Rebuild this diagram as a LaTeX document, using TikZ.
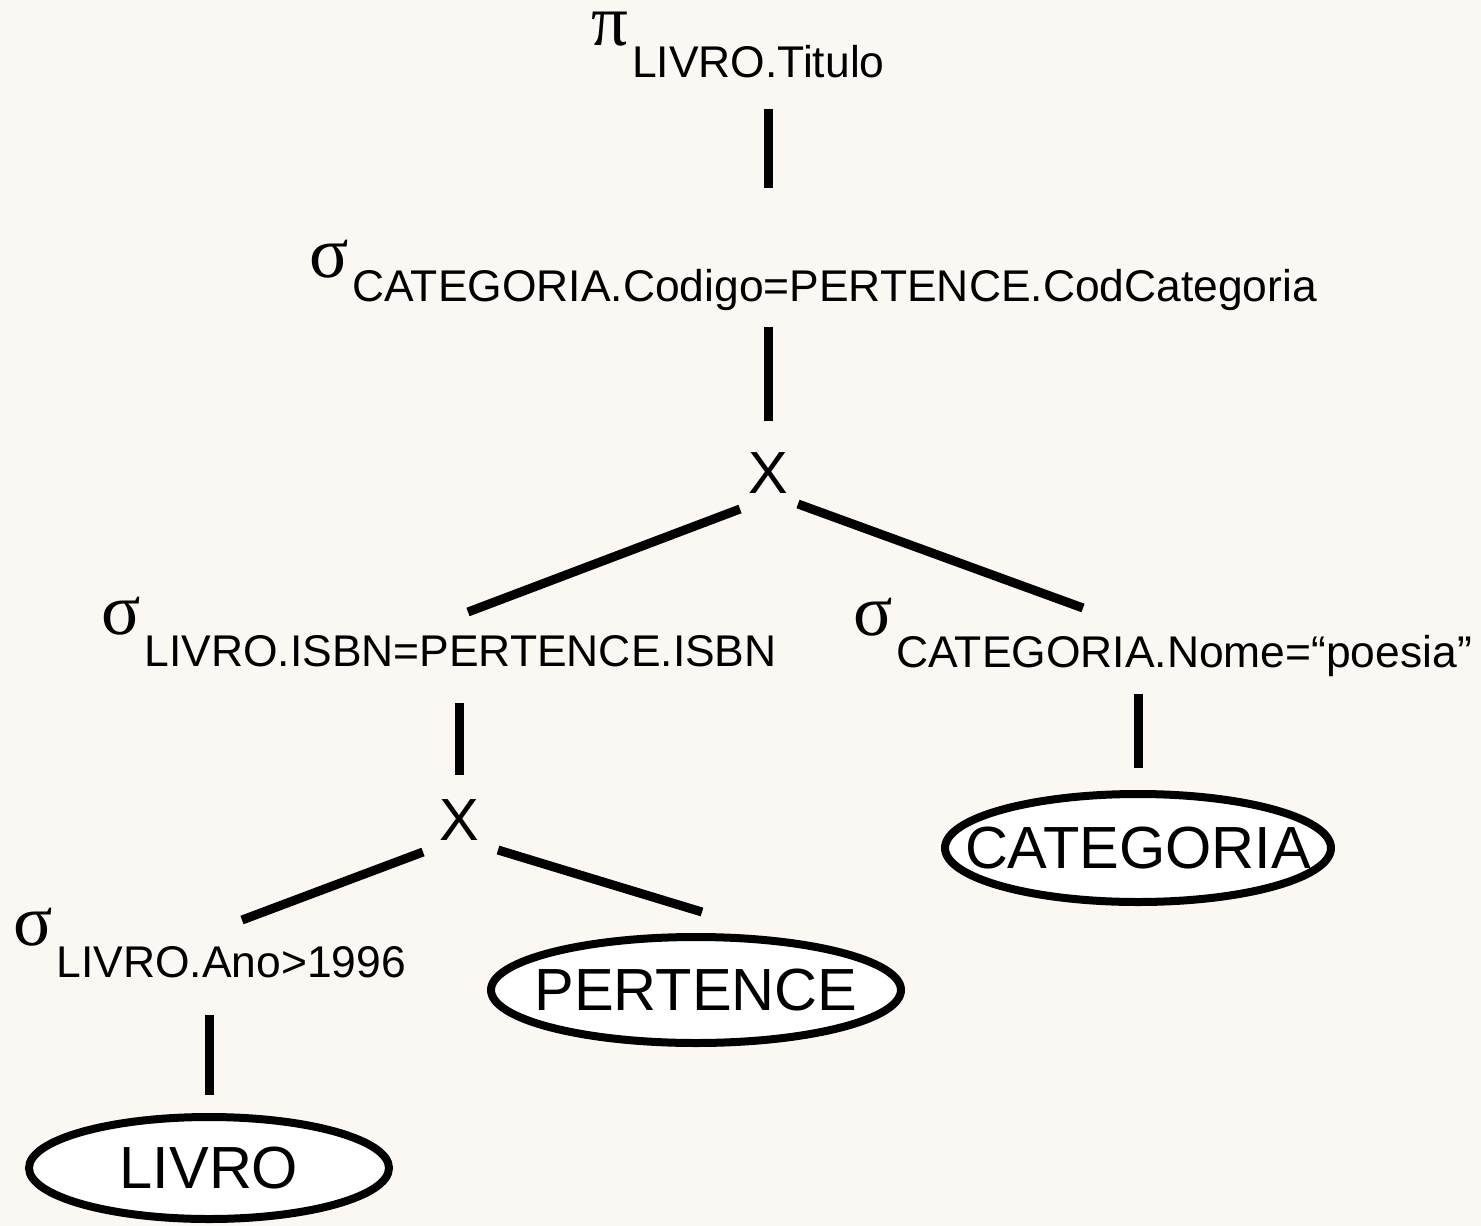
\documentclass[tikz,border=0pt]{standalone}
\usepackage{fontspec}
\setmainfont{Liberation Sans}
\newfontfamily\greekfont{Liberation Serif}
\usetikzlibrary{shapes.geometric}
\definecolor{paper}{RGB}{251,247,243}
\newcommand\subfont{\fontsize{44.4}{50}\selectfont}
\newcommand\labelfont{\fontsize{59.5}{66}\selectfont}
% operator symbol raised over its subscript
\newcommand\oper[3][32]{{\greekfont\fontsize{73}{75}\selectfont\raisebox{#1pt}{#2}}\kern4pt{\subfont #3}}
\tikzset{
  oper/.style={anchor=base west, inner sep=0pt},
  prod/.style={inner sep=0pt, font=\labelfont},
  rel/.style={draw, ellipse, line width=8pt, fill=white, inner sep=0pt, font=\labelfont},
  branch/.style={line width=9pt}
}
\begin{document}
\begin{tikzpicture}[x=1pt,y=-1pt]
% background
\fill [paper] (0,0) rectangle (1481,1226);
\useasboundingbox (0,0) rectangle (1481,1226);
% operators
\node [oper] (proj) at (591,77) {\oper{π}{LIVRO.Titulo}};
\node [oper] (selcod) at (309,301) {\oper[24]{σ}{CATEGORIA.Codigo=PERTENCE.CodCategoria}};
\node [prod] (x1) at (768,473) {X};
\node [oper] (selisbn) at (101,666) {\oper{σ}{LIVRO.ISBN=PERTENCE.ISBN}};
\node [oper] (selnome) at (853,667) {\oper{σ}{CATEGORIA.Nome=“poesia”}};
\node [prod] (x2) at (459,820) {X};
\node [oper] (selano) at (13,977) {\oper{σ}{LIVRO.Ano>1996}};
% relations
\node [rel, minimum width=360pt, minimum height=102pt] (livro) at (209,1168) {\makebox[0pt]{LIVRO}};
\node [rel, minimum width=410pt, minimum height=106pt] (pertence) at (696,990) {\makebox[0pt]{PERTENCE}};
\node [rel, minimum width=386pt, minimum height=108pt] (categoria) at (1138,848) {\makebox[0pt]{CATEGORIA}};
% branches
\draw [branch] ([yshift=-32]proj.base -| x1) -- ([yshift=113]selcod.base -| x1);
\draw [branch] ([yshift=-26]selcod.base -| x1) -- ([yshift=52]x1.center);
\draw [branch] ([shift={(-28,36)}]x1.center) -- ([shift={(367,-54)}]selisbn.base west);
\draw [branch] ([shift={(30,31)}]x1.center) -- ([shift={(230,-59)}]selnome.base west);
\draw [branch] ([yshift=-37]selisbn.base west -| x2) -- ([yshift=45]x2.center);
\draw [branch] ([shift={(-36,32)}]x2.center) -- ([shift={(229,-57)}]selano.base west);
\draw [branch] ([shift={(39,30)}]x2.center) -- ([shift={(6,-78)}]pertence.center);
\draw [branch] ([yshift=-38]selano.base -| livro) -- ([yshift=73]livro.center);
\draw [branch] ([yshift=-27]selnome.base -| categoria) -- ([yshift=80]categoria.center);
\end{tikzpicture}
\end{document}
